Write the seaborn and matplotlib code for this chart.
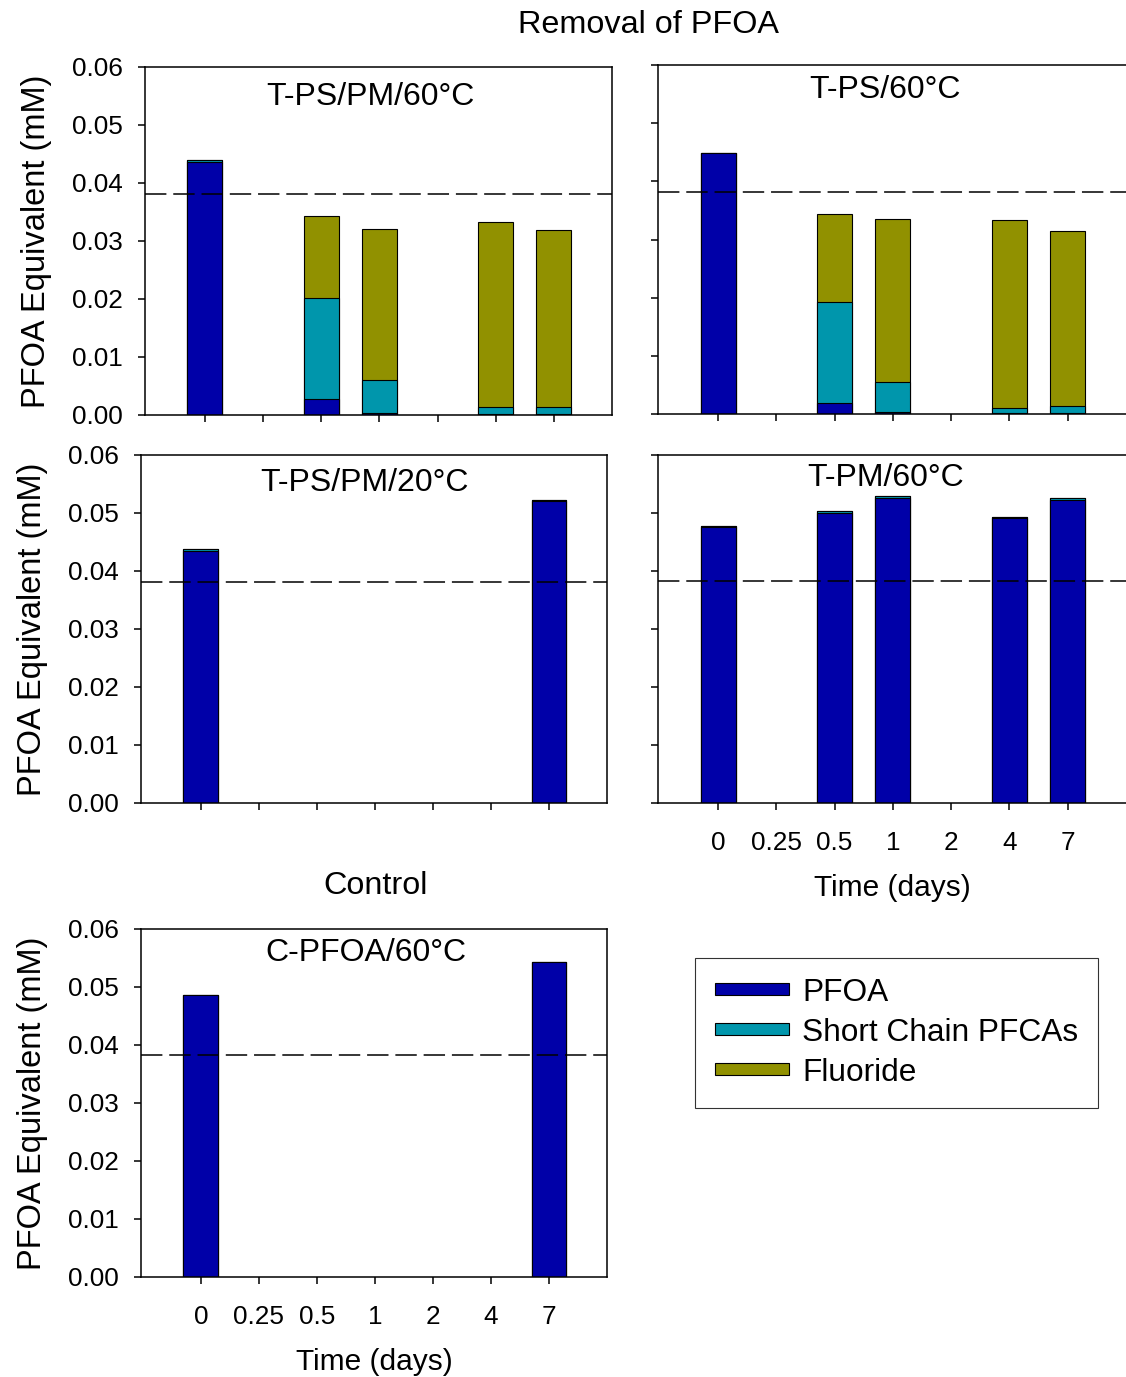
import numpy as np
import pandas as pd
import matplotlib
matplotlib.use("Agg")
import matplotlib.pyplot as plt
import seaborn as sns
from matplotlib.patches import Patch

nan = np.nan
days = ["0", "0.25", "0.5", "1", "2", "4", "7"]

# T-PS/PM/60°C
tl_pfoa = [0.0437, nan, 0.0028, 0.0004, nan, 0.0001, 0.0001]
tl_sc = [0.0003, nan, 0.0174, 0.0056, nan, 0.0013, 0.0013]
tl_f = [0.0, nan, 0.0141, 0.0260, nan, 0.0319, 0.0305]
# T-PS/60°C
tr_pfoa = [0.0448, nan, 0.0019, 0.0003, nan, 0.0001, 0.0001]
tr_sc = [0.0001, nan, 0.0173, 0.0052, nan, 0.0010, 0.0012]
tr_f = [0.0, nan, 0.0152, 0.0280, nan, 0.0322, 0.0301]
# T-PS/PM/20°C
ml_pfoa = [0.0435, nan, nan, nan, nan, nan, 0.0520]
ml_sc = [0.0003, nan, nan, nan, nan, nan, 0.0002]
ml_f = [0.0, nan, nan, nan, nan, nan, 0.0]
# T-PM/60°C
mr_pfoa = [0.0475, nan, 0.0500, 0.0526, nan, 0.0491, 0.0523]
mr_sc = [0.0003, nan, 0.0003, 0.0003, nan, 0.0002, 0.0003]
mr_f = [0.0, nan, 0.0, 0.0, nan, 0.0, 0.0]
# C-PFOA/60°C
b_pfoa = [0.0486, nan, nan, nan, nan, nan, 0.0543]
b_sc = [0.0, nan, nan, nan, nan, nan, 0.0]
b_f = [0.0, nan, nan, nan, nan, nan, 0.0]

dash_levels = [0.0381, 0.0382, 0.0381, 0.0383, 0.0383]
panel_names = ["T-PS/PM/60°C", "T-PS/60°C", "T-PS/PM/20°C", "T-PM/60°C", "C-PFOA/60°C"]
series_names = ["PFOA", "Short Chain PFCAs", "Fluoride"]
yticks = [0.00, 0.01, 0.02, 0.03, 0.04, 0.05, 0.06]

C_PFOA = "#0000A8"
C_SC = "#0096AC"
C_F = "#919100"

sns.set_style("ticks")
plt.rcParams["font.family"] = ["Liberation Sans", "DejaVu Sans"]
plt.rcParams["axes.linewidth"] = 1.1
plt.rcParams["text.color"] = "black"
plt.rcParams["axes.labelcolor"] = "black"
plt.rcParams["xtick.color"] = "black"
plt.rcParams["ytick.color"] = "black"

W, H = 1126, 1377
fig = plt.figure(figsize=(W / 100, H / 100), dpi=100)


def px_axes(l, t, r, b):
    return fig.add_axes([l / W, 1 - b / H, (r - l) / W, (b - t) / H])


axes_px = [(145, 67, 612, 415), (658, 65, 1126, 414), (141, 455, 607, 803),
           (658, 455, 1126, 803), (141, 929, 607, 1277)]
data = [(tl_pfoa, tl_sc, tl_f), (tr_pfoa, tr_sc, tr_f), (ml_pfoa, ml_sc, ml_f),
        (mr_pfoa, mr_sc, mr_f), (b_pfoa, b_sc, b_f)]
label_pos = [(0.482, 0.914), (0.485, 0.928), (0.479, 0.920), (0.487, 0.934), (0.483, 0.931)]

for i, (rect, (p, s, f)) in enumerate(zip(axes_px, data)):
    ax = px_axes(*rect)
    df = pd.DataFrame({"day": days, "pfoa": p, "sc": s, "f": f}).dropna()
    df["l1"] = df["pfoa"]
    df["l2"] = df["pfoa"] + df["sc"]
    df["l3"] = df["pfoa"] + df["sc"] + df["f"]
    for col, c in [("l3", C_F), ("l2", C_SC), ("l1", C_PFOA)]:
        sns.barplot(data=df, x="day", y=col, order=days, color=c, width=0.6,
                    edgecolor="black", linewidth=0.8, saturation=1, ax=ax,
                    errorbar=None)
    ax.axhline(dash_levels[i], color="black", lw=1.1, dashes=(14, 4.5))
    ax.set_xlim(-1.03, 7.0)
    ax.set_ylim(0, 0.06)
    ax.set_yticks(yticks)
    ax.tick_params(axis="both", direction="out", length=5, width=1.1,
                   labelsize=18.8, colors="black")
    ax.tick_params(axis="y", pad=11)
    ax.tick_params(axis="x", pad=15)
    ax.set_xlabel("")
    ax.set_ylabel("")
    for sp in ax.spines.values():
        sp.set_visible(True)
        sp.set_color("black")
    if i in (1, 3):
        ax.spines["right"].set_visible(False)
        ax.set_yticklabels([])
    else:
        ax.set_yticklabels([f"{v:.2f}" for v in yticks])
        ax.set_ylabel("PFOA Equivalent (mM)", fontsize=23.5, labelpad=14)
    if i in (3, 4):
        ax.set_xticklabels(days)
        ax.set_xlabel("Time (days)", fontsize=21.5, labelpad=14)
    else:
        ax.set_xticklabels([])
    ax.text(label_pos[i][0], label_pos[i][1], panel_names[i], transform=ax.transAxes,
            ha="center", va="center", fontsize=23)

fig.text(648 / W, 1 - 25 / H, "Removal of PFOA", ha="center", va="center", fontsize=23.3)
fig.text(376 / W, 1 - 886 / H, "Control", ha="center", va="center", fontsize=23.3)

handles = [Patch(facecolor=c, edgecolor="black", linewidth=0.8) for c in (C_PFOA, C_SC, C_F)]
leg = fig.legend(handles, series_names, loc="upper left",
                 bbox_to_anchor=(695 / W, 1 - 958 / H), fontsize=22.8,
                 frameon=True, fancybox=False, handlelength=2.35, handleheight=0.2,
                 handletextpad=0.42, labelspacing=0.32, borderpad=0.62,
                 borderaxespad=0)
leg.get_frame().set_edgecolor("black")
leg.get_frame().set_linewidth(0.8)

fig.savefig("out.png", dpi=100)
